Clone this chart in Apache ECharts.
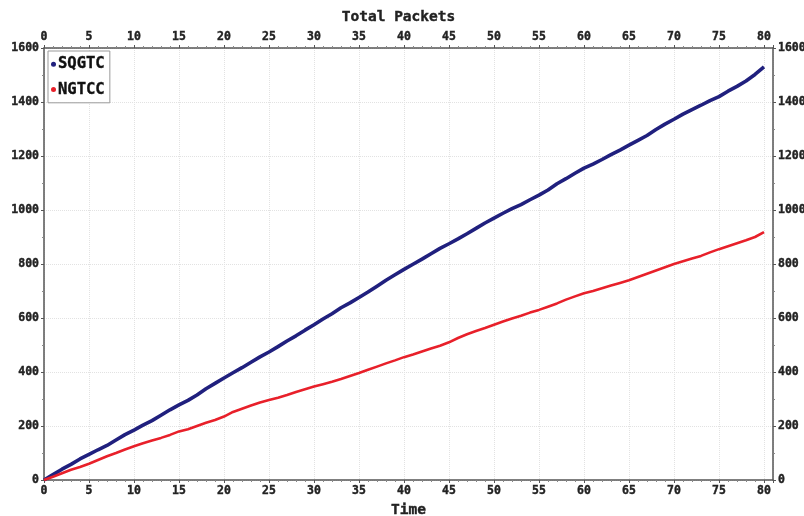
<!DOCTYPE html>
<html>
<head>
<meta charset="utf-8">
<script src="https://cdn.jsdelivr.net/npm/echarts@6/dist/echarts.min.js"></script>
<style>html,body{margin:0;padding:0;background:#fff}#c{width:804px;height:516px}</style>
</head>
<body>
<div id="c"></div>
<script>
const timeValues = [0,1,2,3,4,5,6,7,8,9,10,11,12,13,14,15,16,17,18,19,20,21,22,23,24,25,26,27,28,29,30,31,32,33,34,35,36,37,38,39,40,41,42,43,44,45,46,47,48,49,50,51,52,53,54,55,56,57,58,59,60,61,62,63,64,65,66,67,68,69,70,71,72,73,74,75,76,77,78,79,80];
const sqgtc = [0,20,40,58,78,95,112,128,148,168,185,203,220,240,260,278,295,315,338,358,378,397,416,436,456,474,494,515,534,555,575,596,616,638,656,676,696,718,740,760,780,799,818,838,858,875,893,912,932,952,970,988,1005,1020,1038,1055,1074,1097,1116,1136,1155,1170,1187,1205,1222,1240,1258,1276,1298,1318,1336,1355,1372,1388,1405,1420,1440,1458,1478,1502,1530];
const ngtcc = [0,12,25,38,48,60,74,88,100,113,125,136,146,156,167,180,188,200,212,222,235,252,264,276,287,296,305,315,326,336,346,355,364,374,385,396,408,420,432,443,455,465,476,487,497,510,526,540,552,563,575,587,598,608,620,630,642,654,668,680,692,700,710,720,730,740,752,764,776,788,800,810,820,830,843,855,866,877,888,900,918];
const seriesNames = ['SQGTC','NGTCC'];
const xTitleTop = 'Total Packets';
const xTitleBottom = 'Time';

const FONT = '"DejaVu Sans Mono", monospace';
const axisColor = '#555';
const labelStyle = {fontFamily: FONT, fontWeight: 'bold', fontSize: 11.5, color: '#222',
  textBorderColor: '#222', textBorderWidth: 0.4};
function xAxis(pos, name){
  return {
    type: 'value', position: pos, min: 0, max: 81, interval: 5,
    name: name, nameLocation: 'middle', nameGap: pos==='top'?23:23,
    nameTextStyle: {fontFamily: FONT, fontWeight: 'bold', fontSize: 14.5, color: '#222',
      textBorderColor: '#222', textBorderWidth: 0.4,
      padding: pos==='top' ? [0, 20, 0, 0] : [0, 0, 0, 0]},
    axisLine: {show: true, onZero: false, lineStyle: {color: axisColor, width: 1.5}},
    axisTick: {show: true, inside: false, length: 3, lineStyle: {color: axisColor}},
    minorTick: {show: true, splitNumber: 5, length: 2, lineStyle: {color: '#888'}},
    axisLabel: Object.assign({margin: 5, formatter: v => (v % 5 === 0 ? String(v) : '')}, labelStyle),
    splitLine: {show: pos==='bottom', lineStyle: {color: '#e2e2e2', type: 'dotted', width: 1}}
  };
}
function yAxis(pos){
  return {
    type: 'value', position: pos, min: 0, max: 1600, interval: 200,
    axisLine: {show: true, onZero: false, lineStyle: {color: axisColor, width: 1.5}},
    axisTick: {show: true, inside: false, length: 3, lineStyle: {color: axisColor}},
    minorTick: {show: true, splitNumber: 2, length: 2, lineStyle: {color: '#888'}},
    axisLabel: Object.assign({margin: 5, formatter: v => String(v)}, labelStyle),
    splitLine: {show: pos==='left', lineStyle: {color: '#e2e2e2', type: 'dotted', width: 1}}
  };
}
const chart = echarts.init(document.getElementById('c'), null, {renderer: 'canvas'});
chart.setOption({
  animation: false,
  backgroundColor: '#fff',
  grid: {left: 44, right: 31, top: 48, bottom: 36, show: false, containLabel: false, outerBoundsMode: 'none'},
  legend: {
    orient: 'vertical', left: 48, top: 51,
    data: seriesNames.map(n => ({name: n, icon: 'circle'})),
    itemWidth: 5, itemHeight: 5, itemGap: 9,
    padding: [5, 5, 5, 3],
    borderColor: '#999', borderWidth: 1, backgroundColor: '#fff',
    textStyle: {fontFamily: FONT, fontWeight: 'bold', fontSize: 15.5, color: '#111',
      textBorderColor: '#111', textBorderWidth: 0.4, padding: [0,0,0,-3]}
  },
  xAxis: [xAxis('bottom', xTitleBottom), xAxis('top', xTitleTop)],
  yAxis: [yAxis('left'), yAxis('right')],
  series: [
    {name: seriesNames[0], type: 'line', showSymbol: false, symbol: 'circle', color: '#20207e',
     lineStyle: {width: 3.6, color: '#20207e'}, data: timeValues.map((t,i)=>[t, sqgtc[i]])},
    {name: seriesNames[1], type: 'line', showSymbol: false, symbol: 'circle', color: '#e8202a',
     lineStyle: {width: 2.6, color: '#e8202a'}, data: timeValues.map((t,i)=>[t, ngtcc[i]])}
  ]
});
</script>
</body>
</html>
